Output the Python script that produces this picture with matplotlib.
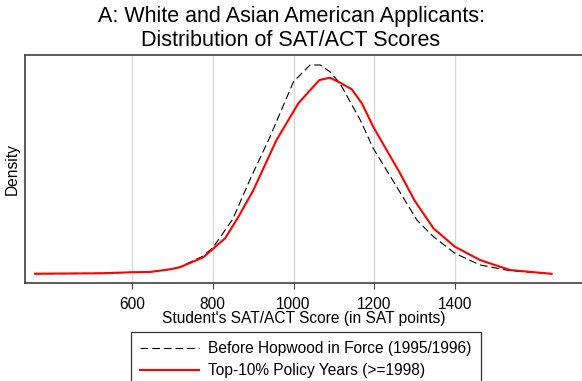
import matplotlib
matplotlib.use("Agg")
import matplotlib.pyplot as plt

plt.rcParams['font.family'] = ['Liberation Sans', 'DejaVu Sans']

# Data
before_x = [361, 522, 596, 645, 695, 719, 777, 802, 850, 892, 942, 1000, 1041,
            1066, 1090, 1115, 1140, 1165, 1197, 1255, 1305, 1346, 1399, 1461,
            1535, 1638]
before_density = [0.000004, 0.000010, 0.000024, 0.000029, 0.000067, 0.000100,
                  0.000257, 0.000386, 0.000786, 0.001343, 0.001961, 0.002747,
                  0.002986, 0.002986, 0.002890, 0.002724, 0.002461, 0.002200,
                  0.001796, 0.001247, 0.000771, 0.000533, 0.000296, 0.000129,
                  0.000047, 0.000003]

top10_x = [361, 522, 596, 645, 695, 719, 777, 831, 864, 901, 958, 1012, 1064,
           1090, 1115, 1144, 1169, 1197, 1263, 1300, 1346, 1399, 1461, 1535,
           1638]
top10_density = [0.000004, 0.000010, 0.000024, 0.000029, 0.000067, 0.000096,
                 0.000239, 0.000510, 0.000819, 0.001200, 0.001914, 0.002439,
                 0.002771, 0.002804, 0.002733, 0.002639, 0.002439, 0.002104,
                 0.001443, 0.001043, 0.000653, 0.000390, 0.000200, 0.000057,
                 0.000003]

xticks = [600, 800, 1000, 1200, 1400]
title = "A: White and Asian American Applicants:\nDistribution of SAT/ACT Scores"
xlabel = "Student's SAT/ACT Score (in SAT points)"
ylabel = "Density"
labels = ["Before Hopwood in Force (1995/1996)", "Top-10% Policy Years (>=1998)"]

W, H = 582, 381
fig = plt.figure(figsize=(W / 100, H / 100), dpi=100)
ax = fig.add_axes([25 / W, 1 - 283 / H, 1 - 25 / W, (283 - 54.7) / H])

l1, = ax.plot(before_x, before_density, color='black', lw=0.8,
              dashes=(7, 3.5), label=labels[0])
l2, = ax.plot(top10_x, top10_density, color='#ff0000', lw=1.5,
              label=labels[1])

px_per_sat = 80.9 / 200
x0 = 600 - (131.7 - 25) / px_per_sat
x1 = x0 + (W - 25) / px_per_sat
ax.set_xlim(x0, x1)
ax.set_ylim(-9 / 70000, 219.3 / 70000)

ax.set_xticks(xticks)
ax.set_xticklabels([str(t) for t in xticks], fontsize=11.2)
ax.set_yticks([])
ax.tick_params(axis='x', length=4, width=0.8, color='#444444', pad=6)
ax.grid(axis='x', color='#d8d8d8', lw=1)
ax.set_axisbelow(True)

for s in ['left', 'top', 'bottom']:
    ax.spines[s].set_color('#404040')
    ax.spines[s].set_linewidth(1.2)
ax.spines['right'].set_visible(False)

ax.set_xlabel(xlabel, fontsize=11.2, labelpad=-1)
ax.set_ylabel(ylabel, fontsize=11.2, labelpad=4)

fig.text(0.5, 1 - 6 / H, title, ha='center', va='top', fontsize=15.5,
         linespacing=1.18)

leg = fig.legend(handles=[l1, l2], labels=labels, loc='upper left',
                 bbox_to_anchor=(130.5 / W, 1 - 331.7 / H), borderaxespad=0,
                 fontsize=11.2, frameon=True, fancybox=False,
                 handlelength=3.8, handletextpad=0.6, borderpad=0.6,
                 labelspacing=0.45)
leg.get_frame().set_edgecolor('black')
leg.get_frame().set_linewidth(0.9)

fig.savefig("out.png", dpi=100)
